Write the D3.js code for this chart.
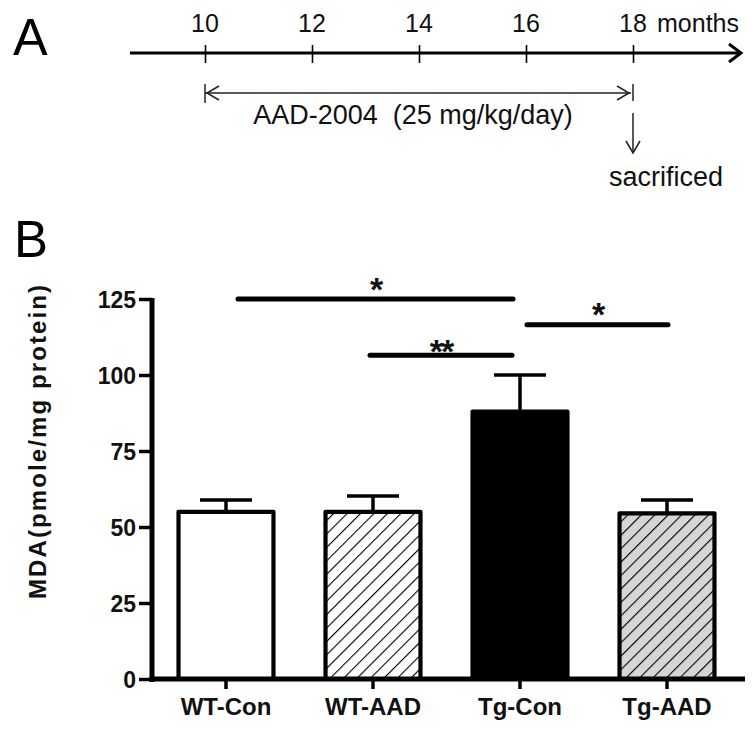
<!DOCTYPE html>
<html><head><meta charset="utf-8">
<script src="https://cdn.jsdelivr.net/npm/d3@7"></script>
<style>
html,body{margin:0;padding:0;background:#fff;}
svg{display:block;font-family:"Liberation Sans",Arial,sans-serif;}
</style></head>
<body>
<svg id="chart" width="753" height="730"></svg>
<script>
// ---------- data ----------
const timelineMonths = [10, 12, 14, 16, 18];
const treatmentLabel = "AAD-2004  (25 mg/kg/day)";
const treatmentStart = 10, treatmentEnd = 18;
const categories = ["WT-Con", "WT-AAD", "Tg-Con", "Tg-AAD"];
const meanValues = [55, 55, 88, 54.5];
const semValues = [3.9, 5.2, 12, 4.4];
const yTicks = [0, 25, 50, 75, 100, 125];
const sigFrom = ["WT-Con", "WT-AAD", "Tg-Con"];
const sigTo = ["Tg-Con", "Tg-Con", "Tg-AAD"];
const sigLevel = [125, 106.5, 116.5];
const sigLabel = ["*", "**", "*"];

// ---------- styles (layout only) ----------
const fills = ["#ffffff", "url(#hatchWhite)", "#000000", "url(#hatchGray)"];
const sigNudge = [[12, -7], [-3, -8], [7, 1]];
const starDy = [2, 8, 1];

const svg = d3.select("#chart");
const font = '"Liberation Sans",Arial,sans-serif';

// patterns
const defs = svg.append("defs");
function hatch(id, bg) {
  const p = defs.append("pattern").attr("id", id).attr("patternUnits", "userSpaceOnUse")
    .attr("width", 9.5).attr("height", 9.5).attr("patternTransform", "rotate(45)");
  p.append("rect").attr("width", 9.5).attr("height", 9.5).attr("fill", bg);
  p.append("line").attr("x1", 0).attr("y1", 0).attr("x2", 0).attr("y2", 9.5)
    .attr("stroke", "#000").attr("stroke-width", 2.2);
}
hatch("hatchWhite", "#ffffff");
hatch("hatchGray", "#d6d6d6");

// ---------- Panel A ----------
svg.append("text").attr("x", 13).attr("y", 55).attr("font-size", 52).attr("font-family", font)
  .text("A");

const tx = d3.scaleLinear().domain([10, 18]).range([205, 633]);
const lineY = 53;
svg.append("line").attr("x1", 130).attr("x2", 740).attr("y1", lineY).attr("y2", lineY)
  .attr("stroke", "#000").attr("stroke-width", 3);
svg.append("path").attr("d", `M729,${lineY - 9} L741,${lineY} L729,${lineY + 9}`)
  .attr("fill", "none").attr("stroke", "#000").attr("stroke-width", 3);

const tAxis = d3.axisBottom(tx).tickValues(timelineMonths).tickSize(18).tickFormat("");
const tg = svg.append("g").attr("transform", `translate(0,${lineY - 8})`).call(tAxis);
tg.select(".domain").remove();
tg.selectAll(".tick line").attr("stroke", "#000").attr("stroke-width", 1.6);

svg.selectAll("text.month").data(timelineMonths).join("text").attr("class", "month")
  .attr("x", d => tx(d)).attr("y", 32).attr("text-anchor", "middle")
  .attr("font-size", 25).attr("font-family", font).attr("fill", "#111").text(d => d);
svg.append("text").attr("x", 657).attr("y", 32).attr("font-size", 25).attr("font-family", font)
  .attr("fill", "#111").text("months");

// treatment double arrow
const ay = 93;
const gA = svg.append("g").attr("stroke", "#222").attr("stroke-width", 1.5).attr("fill", "none");
gA.append("line").attr("x1", tx(treatmentStart)).attr("x2", tx(treatmentEnd) - 2).attr("y1", ay).attr("y2", ay);
gA.append("line").attr("x1", tx(treatmentStart)).attr("x2", tx(treatmentStart)).attr("y1", ay - 9).attr("y2", ay + 10);
gA.append("line").attr("x1", tx(treatmentEnd)).attr("x2", tx(treatmentEnd)).attr("y1", ay - 9).attr("y2", ay + 8);
gA.append("path").attr("d", `M${tx(treatmentStart) + 14},${ay - 7} L${tx(treatmentStart) + 2},${ay} L${tx(treatmentStart) + 14},${ay + 7}`);
gA.append("path").attr("d", `M${tx(treatmentEnd) - 16},${ay - 7} L${tx(treatmentEnd) - 4},${ay} L${tx(treatmentEnd) - 16},${ay + 7}`);
svg.append("text").attr("x", 413).attr("y", 124)
  .attr("text-anchor", "middle").attr("font-size", 27).attr("font-family", font).attr("fill", "#111")
  .style("white-space", "pre").attr("xml:space", "preserve")
  .text(treatmentLabel);
// sacrificed arrow
gA.append("line").attr("x1", tx(treatmentEnd)).attr("x2", tx(treatmentEnd)).attr("y1", 113).attr("y2", 153);
gA.append("path").attr("d", `M${tx(treatmentEnd) - 7},${141} L${tx(treatmentEnd)},${153} L${tx(treatmentEnd) + 7},${141}`);
svg.append("text").attr("x", 666).attr("y", 186).attr("text-anchor", "middle")
  .attr("font-size", 27).attr("font-family", font).attr("fill", "#111").text("sacrificed");

// ---------- Panel B ----------
svg.append("text").attr("x", 14).attr("y", 257).attr("font-size", 51).attr("font-family", font)
  .text("B");

const x = d3.scaleBand().domain(categories).range([152.5, 740.5]).paddingInner(0.354).paddingOuter(0.177);
const y = d3.scaleLinear().domain([0, 125]).range([679, 299]);
const axisX = 152;

// bars
svg.selectAll("rect.bar").data(categories).join("rect").attr("class", "bar")
  .attr("x", d => x(d)).attr("width", x.bandwidth())
  .attr("y", (d, i) => y(meanValues[i])).attr("height", (d, i) => y(0) - y(meanValues[i]))
  .attr("fill", (d, i) => fills[i]).attr("stroke", "#000").attr("stroke-width", 4.2)
  .attr("stroke-linejoin", "round");

// error bars
const eb = svg.append("g").attr("stroke", "#000").attr("stroke-width", 3.5);
categories.forEach((c, i) => {
  const cx = x(c) + x.bandwidth() / 2;
  eb.append("line").attr("x1", cx).attr("x2", cx).attr("y1", y(meanValues[i])).attr("y2", y(meanValues[i] + semValues[i]));
  eb.append("line").attr("x1", cx - 26).attr("x2", cx + 26).attr("y1", y(meanValues[i] + semValues[i])).attr("y2", y(meanValues[i] + semValues[i]));
});

// y axis
const yAxis = d3.axisLeft(y).tickValues(yTicks).tickSize(13).tickPadding(3);
const gy = svg.append("g").attr("transform", `translate(${axisX},0)`).call(yAxis);
gy.select(".domain").remove();
gy.selectAll(".tick line").attr("stroke", "#000").attr("stroke-width", 3.5);
gy.selectAll(".tick text").attr("font-size", 23).attr("font-weight", "bold")
  .attr("font-family", font).attr("fill", "#111").attr("dy", "0.36em");
svg.append("line").attr("x1", axisX).attr("x2", axisX).attr("y1", y(125) - 1).attr("y2", y(0) + 3)
  .attr("stroke", "#000").attr("stroke-width", 5);

// x axis
const xAxis = d3.axisBottom(x).tickSize(10).tickPadding(9);
const gx = svg.append("g").attr("transform", `translate(0,${y(0)})`).call(xAxis);
gx.select(".domain").remove();
gx.selectAll(".tick line").attr("stroke", "#000").attr("stroke-width", 3.5);
gx.selectAll(".tick text").attr("font-size", 24).attr("font-weight", "bold")
  .attr("font-family", font).attr("fill", "#111").attr("dy", "0.71em");
svg.append("line").attr("x1", axisX - 2.5).attr("x2", 745).attr("y1", y(0)).attr("y2", y(0))
  .attr("stroke", "#000").attr("stroke-width", 5);

// y label
svg.append("text").attr("transform", `translate(46,442) rotate(-90)`).attr("text-anchor", "middle")
  .attr("font-size", 24).attr("font-weight", "bold").attr("font-family", font).attr("fill", "#111")
  .attr("textLength", 314).attr("lengthAdjust", "spacing")
  .text("MDA(pmole/mg protein)");

// significance bars
sigFrom.forEach((f, i) => {
  const x1 = x(f) + x.bandwidth() / 2 + sigNudge[i][0];
  const x2 = x(sigTo[i]) + x.bandwidth() / 2 + sigNudge[i][1];
  const yy = y(sigLevel[i]);
  svg.append("line").attr("x1", x1).attr("x2", x2).attr("y1", yy).attr("y2", yy)
    .attr("stroke", "#000").attr("stroke-width", 5).attr("stroke-linecap", "round");
  svg.append("text").attr("x", (x1 + x2) / 2).attr("y", yy + starDy[i]).attr("text-anchor", "middle")
    .attr("font-size", 34).attr("font-weight", "bold").attr("font-family", font).attr("fill", "#111")
    .attr("letter-spacing", -2)
    .text(sigLabel[i]);
});
</script>
</body></html>
